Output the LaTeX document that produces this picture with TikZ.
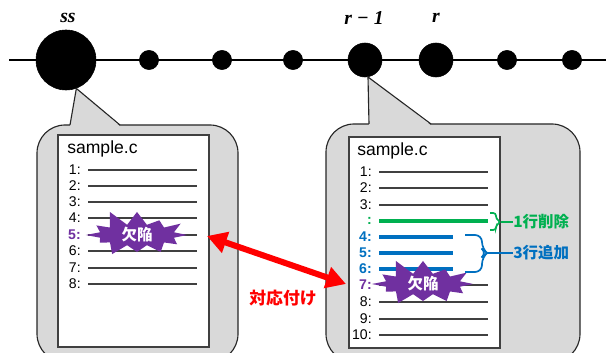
\documentclass[tikz,border=0pt]{standalone}
\usepackage{fontspec}
\setmainfont{Liberation Sans}
\newfontfamily\jp{Noto Sans CJK JP}
\newfontfamily\idxfont{Liberation Serif}
\usetikzlibrary{arrows.meta}
\usetikzlibrary{shapes.symbols}
\usetikzlibrary{positioning}

\definecolor{bugpurple}{HTML}{7030A0}
\definecolor{delgreen}{HTML}{00B050}
\definecolor{addblue}{HTML}{0070C0}
\definecolor{balloongray}{HTML}{D9D9D9}

\tikzstyle{dot}=[draw,fill=black,circle,inner sep=0pt,minimum size=0.48cm]
\tikzstyle{commit}=[dot,minimum size=0.85cm]
\tikzstyle{idxlbl}=[inner sep=0pt,font=\idxfont\bfseries\itshape\fontsize{14}{16}\selectfont]
\tikzstyle{balloon}=[draw=black!85,fill=balloongray,line width=0.8pt,rounded corners=0.7cm]
\tikzstyle{doc}=[draw=black!75,fill=white,line width=0.9pt]
\tikzstyle{fname}=[anchor=west,inner sep=0pt,font=\fontsize{12.5}{14}\selectfont]
\tikzstyle{lnum}=[anchor=east,inner sep=0pt,font=\fontsize{10}{11}\selectfont]
\tikzstyle{bugnum}=[lnum,text=bugpurple,font=\fontsize{10}{11}\selectfont\bfseries]
\tikzstyle{addnum}=[lnum,text=addblue,font=\fontsize{10}{11}\selectfont\bfseries]
\tikzstyle{srcline}=[black!75,line width=0.8pt]
\tikzstyle{jplbl}=[anchor=west,inner sep=0pt,font=\jp\bfseries\fontsize{11}{13}\selectfont]
\tikzstyle{burst}=[starburst,fill=bugpurple,text=white,inner sep=0pt,
  minimum width=2.75cm,minimum height=0.85cm,starburst points=12,
  starburst point height=0.42cm,random starburst=11,
  font=\jp\bfseries\fontsize{11}{13}\selectfont]

\begin{document}
\begin{tikzpicture}[x=0.025cm,y=-0.025cm]
\useasboundingbox (0,0) rectangle (606,353);
\clip (0,0) rectangle (606,353);

% commit history
\coordinate (h0) at (9,60);
\coordinate (h1) at (606,60);
\draw[line width=0.8pt] (h0) -- (h1);
\node[commit,minimum size=1.5cm] (ss) at (66,60) {};
\node[commit] (rm1) at (365,60) {};
\node[commit] (r) at (436,60) {};
\foreach \x in {149,222,293,507,572}
  \node[dot] (c\x) at (\x,60) {};
\node[idxlbl] (ssname) at (68,18) {ss};
\node[idxlbl] (rm1name) at (364,18) {r − 1};
\node[idxlbl] (rname) at (436,18) {r};

% balloons
\draw[balloon] (37,125) rectangle (238,362);
\fill[balloongray] (70,126.3) -- (ss.-70) -- (120,126.3) -- cycle;
\draw[line width=0.8pt,black!85] (70,125) -- (ss.-70) -- (120,125);
\draw[balloon] (326,124) rectangle (580,362);
\fill[balloongray] (369,125.3) -- (rm1.-80) -- (431,125.3) -- cycle;
\draw[line width=0.8pt,black!85] (369,124) -- (rm1.-80) -- (431,124);

% sample.c at ss
\draw[doc] (58,135) rectangle (209,347);
\node[fname] (f1) at (67,149) {sample.c};
\foreach \n/\y/\s in {1/170/lnum,2/186/lnum,3/202/lnum,4/218/lnum,5/235/bugnum,6/251/lnum,7/268/lnum,8/284/lnum}{
  \node[\s] (a\n) at (81,\y) {\n:};
  \draw[srcline] (88,\y) -- (197,\y);
}
\node[burst] (bug1) at (137,235) {欠陥};

% sample.c at r-1
\draw[doc] (349,137) rectangle (500,348);
\node[fname] (f2) at (357,151) {sample.c};
\foreach \n/\y/\s in {1/172/lnum,2/188/lnum,3/205/lnum,7/285/bugnum,8/302/lnum,9/319/lnum,10/335/lnum}{
  \node[\s] (b\n) at (372,\y) {\n:};
  \draw[srcline] (379,\y) -- (488,\y);
}
\node[lnum,text=delgreen,font=\fontsize{10}{11}\selectfont\bfseries] (bdel) at (372,221) {:};
\draw[delgreen,line width=2.2pt] (379,221) -- (488,221);
\foreach \n/\y in {4/237,5/253,6/269}{
  \node[addnum] (b\n) at (372,\y) {\n:};
  \draw[addblue,line width=2.2pt] (379,\y) -- (453,\y);
}
\node[burst] (bug2) at (423,284) {欠陥};

% braces
\node[jplbl,text=delgreen] (dellbl) at (513,222) {1行削除};
\coordinate (deltip) at (501,222);
\draw[delgreen,line width=1.2pt,rounded corners=2pt] (490,213) -- (496,213) -- (496,219)
  -- (deltip) -- (496,225) -- (496,230) -- (490,230);
\draw[delgreen,line width=1.2pt] (deltip) -- (dellbl.west);
\node[jplbl,text=addblue] (addlbl) at (513,253) {3行追加};
\coordinate (addtip) at (487,253);
\draw[addblue,line width=1.2pt,rounded corners=5pt] (465,235) -- (482,235) -- (482,249)
  -- (addtip) -- (482,257) -- (482,272) -- (465,272);
\draw[addblue,line width=1.2pt] (addtip) -- (addlbl.west);

% link between the two defects
\coordinate (bugA) at (207,236);
\coordinate (bugB) at (346,284);
\draw[red,line width=4.3pt,{Triangle[length=14pt,width=15pt]}-{Triangle[length=14pt,width=15pt]}] (bugA) -- (bugB);
\node[red,inner sep=0pt,font=\jp\bfseries\fontsize{12}{14}\selectfont] (linklbl) at (283,298) {対応付け};
\end{tikzpicture}
\end{document}
